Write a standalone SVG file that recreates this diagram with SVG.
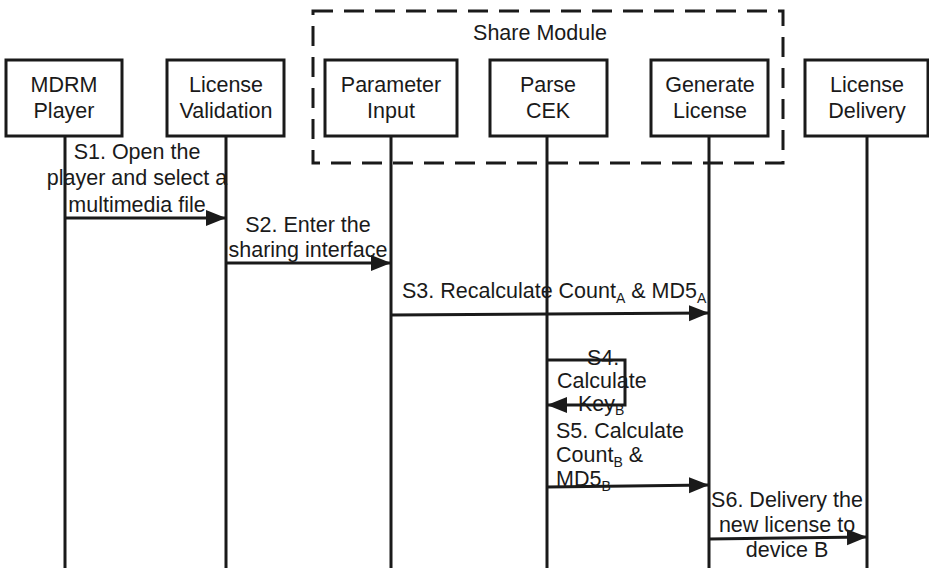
<svg xmlns="http://www.w3.org/2000/svg" width="929" height="568" viewBox="0 0 929 568">
<style>
.box{fill:#fff;stroke:#1a1a1a;stroke-width:3}
.life{stroke:#1a1a1a;stroke-width:3;fill:none}
.msg{stroke:#1a1a1a;stroke-width:3;fill:none;marker-end:url(#ah)}
text{font-family:"Liberation Sans",Arial,sans-serif;fill:#1a1a1a}
.nt{font-size:21.5px;text-anchor:middle}
.lb{font-size:21.5px}
.mid{text-anchor:middle}
.sub{font-size:14px}
</style>
<defs>
<marker id="ah" markerUnits="userSpaceOnUse" markerWidth="22" markerHeight="18" refX="20" refY="8" orient="auto">
<path d="M0,0 L20,8 L0,16 Z" fill="#1a1a1a"/>
</marker>
</defs>
<rect id="share-module" x="313" y="11" width="470" height="152" fill="none" stroke="#1a1a1a" stroke-width="3" stroke-dasharray="20,11"/>
<text x="540" y="40" class="lb mid">Share Module</text>
<g id="lifelines">
<line class="life" x1="65" y1="136" x2="65" y2="568"/>
<line class="life" x1="226" y1="136" x2="226" y2="568"/>
<line class="life" x1="391" y1="136" x2="391" y2="568"/>
<line class="life" x1="547" y1="136" x2="547" y2="568"/>
<line class="life" x1="709" y1="136" x2="709" y2="568"/>
<line class="life" x1="867" y1="136" x2="867" y2="568"/>
</g>
<g id="n1"><rect class="box" x="6" y="60" width="116" height="76"/><text class="nt" x="64" y="92">MDRM</text><text class="nt" x="64" y="118">Player</text></g>
<g id="n2"><rect class="box" x="167" y="60" width="117" height="76"/><text class="nt" x="226" y="92">License</text><text class="nt" x="226" y="118">Validation</text></g>
<g id="n3"><rect class="box" x="325" y="60" width="132" height="76"/><text class="nt" x="391" y="92">Parameter</text><text class="nt" x="391" y="118">Input</text></g>
<g id="n4"><rect class="box" x="490" y="60" width="117" height="76"/><text class="nt" x="548" y="92">Parse</text><text class="nt" x="548" y="118">CEK</text></g>
<g id="n5"><rect class="box" x="651" y="60" width="117" height="76"/><text class="nt" x="710" y="92">Generate</text><text class="nt" x="710" y="118">License</text></g>
<g id="n6"><rect class="box" x="805" y="60" width="123" height="76"/><text class="nt" x="867" y="92">License</text><text class="nt" x="867" y="118">Delivery</text></g>
<g id="connectors">
<line class="msg" x1="65" y1="218" x2="226" y2="218"/>
<line class="msg" x1="226" y1="263" x2="391" y2="263"/>
<line class="msg" x1="391" y1="315" x2="709" y2="313"/>
<path class="msg" d="M547,360 L625,360 L625,405 L547,405"/>
<line class="msg" x1="547" y1="487" x2="709" y2="485"/>
<line class="msg" x1="709" y1="539" x2="867" y2="537"/>
</g>
<g id="labels">
<text class="lb mid"><tspan x="137" y="159">S1. Open the</tspan><tspan x="137" y="185">player and select a</tspan><tspan x="137" y="212">multimedia file</tspan></text>
<text class="lb mid"><tspan x="308" y="232">S2. Enter the</tspan><tspan x="308" y="257">sharing interface</tspan></text>
<text class="lb" x="402" y="298">S3. Recalculate Count<tspan class="sub" dy="5">A</tspan><tspan dy="-5"> &amp; MD5</tspan><tspan class="sub" dy="5">A</tspan></text>
<text class="lb"><tspan x="587" y="365">S4.</tspan><tspan x="557" y="388">Calculate</tspan><tspan x="578" y="411">Key</tspan><tspan class="sub" dy="4">B</tspan></text>
<text class="lb"><tspan x="556" y="438">S5. Calculate</tspan><tspan x="556" y="462">Count</tspan><tspan class="sub" dy="5">B</tspan><tspan dy="-5"> &amp;</tspan><tspan x="556" y="486">MD5</tspan><tspan class="sub" dy="5">B</tspan></text>
<text class="lb mid"><tspan x="787" y="507">S6. Delivery the</tspan><tspan x="787" y="532">new license to</tspan><tspan x="787" y="557">device B</tspan></text>
</g>
</svg>
